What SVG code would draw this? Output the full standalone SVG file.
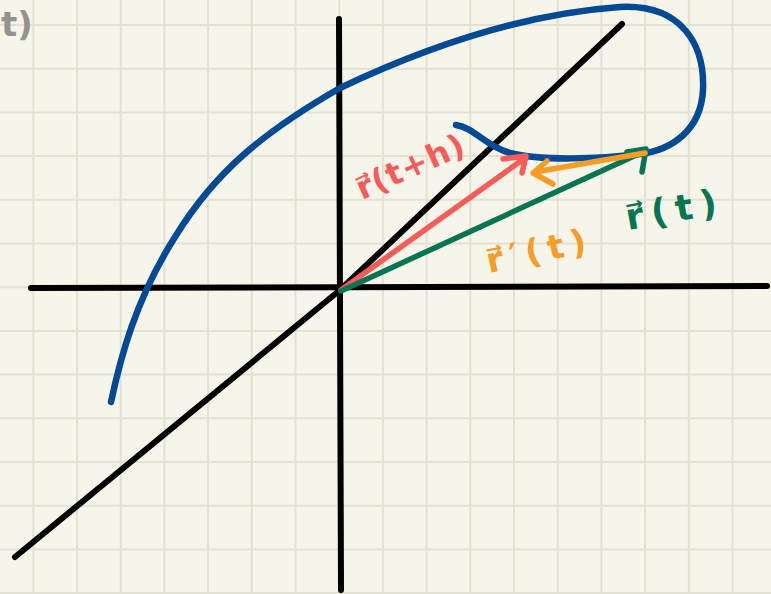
<svg xmlns="http://www.w3.org/2000/svg" width="771" height="594" viewBox="0 0 771 594">
<style>
.grid{stroke:#e3e1d4;stroke-width:2;fill:none}
.axis{stroke:#000;stroke-width:6;stroke-linecap:round;stroke-linejoin:round;fill:none}
.curve{stroke:#024a93;stroke-width:6.5;stroke-linecap:round;fill:none}
.vec{stroke-width:5.5;stroke-linecap:round;stroke-linejoin:round;fill:none}
.lbl{font-family:"DejaVu Sans",sans-serif;font-weight:bold}
</style>
<rect width="771" height="594" fill="#f7f5ea"/>
<path class="grid" d="M33.3,0V594M77,0V594M120.7,0V594M164.4,0V594M208.1,0V594M251.8,0V594M295.5,0V594M339.2,0V594M382.9,0V594M426.6,0V594M470.3,0V594M514,0V594M557.7,0V594M601.4,0V594M645.1,0V594M688.8,0V594M732.5,0V594M0,25H771M0,68.7H771M0,112.4H771M0,156.1H771M0,199.8H771M0,243.5H771M0,287.2H771M0,330.9H771M0,374.6H771M0,418.3H771M0,462H771M0,505.7H771M0,549.4H771M0,593.1H771"/>
<g id="axes">
<path class="axis" d="M339,19L341,590"/>
<path class="axis" d="M31,288L767,286"/>
<path class="axis" d="M15,557L340,290L622,24"/>
</g>
<g id="curve">
<path class="curve" d="M111,402C120,360 135,300 175,237C215,172 262,133 340,88C420,50 520,14 620,7C682,4 705,45 703,90C701,130 672,150 640,154C600,159 540,161 510,153C485,146 475,128 456,125"/>
</g>
<g id="connectors">
<g id="r-t-h">
<path class="vec" stroke="#f85c5a" d="M341,290L525,158M503,159L526,156L522,173"/>
</g>
<g id="r-t">
<path class="vec" stroke="#047553" d="M341,291L645,151M627,152L646,149L642,172"/>
</g>
<g id="r-prime">
<path class="vec" stroke="#f59d27" d="M645,153L535,172M547,161L533,173L553,184"/>
</g>
</g>
<g id="labels">
<text class="lbl" fill="#f85c5a" font-size="32" letter-spacing="1" transform="translate(362,200) rotate(-24)">r⃗(t+h)</text>
<text class="lbl" fill="#047553" font-size="36" letter-spacing="8" transform="translate(628,230) rotate(-10)">r⃗(t)</text>
<text class="lbl" fill="#f59d27" font-size="34" letter-spacing="7" transform="translate(489,273) rotate(-12)">r⃗′(t)</text>
<text class="lbl" fill="#939393" font-size="34" transform="translate(1,36)">t)</text>
</g>
</svg>
